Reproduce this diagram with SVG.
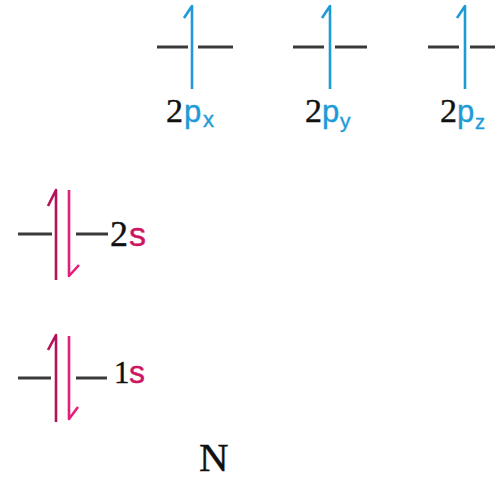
<svg xmlns="http://www.w3.org/2000/svg" width="495" height="479" viewBox="0 0 495 479">
<style>
.lvl{stroke:#3a3a3a;stroke-width:3;fill:none}
.pb{stroke:#1e9bd7;stroke-width:2.6;fill:none;stroke-linejoin:round}
.up{stroke:#b3115a;stroke-width:2.6;fill:none;stroke-linejoin:round}
.dn{stroke:#e51e7b;stroke-width:2.6;fill:none;stroke-linejoin:round}
.dig{font-family:"Liberation Serif",serif;fill:#111;stroke:#111;stroke-width:0.4}
.pl{font-family:"Liberation Sans",sans-serif;fill:#1e9bd7;stroke:#1e9bd7;stroke-width:0.4}
.sl{font-family:"Liberation Sans",sans-serif;fill:#cc1560;stroke:#cc1560;stroke-width:0.4}
</style>
<rect width="495" height="479" fill="#fff"/>
<g id="orbital-2px">
<path class="lvl" d="M157 47H188M198 47H233"/>
<path class="pb" d="M192 89V6L184 18"/>
<text class="dig" x="166" y="122" font-size="34">2</text>
<text class="pl" x="184" y="122" font-size="31">p</text>
<text class="pl" x="203" y="127" font-size="22">x</text>
</g>
<g id="orbital-2py">
<path class="lvl" d="M293 47H324M335 47H367"/>
<path class="pb" d="M330 89V6L322 18"/>
<text class="dig" x="305" y="122" font-size="34">2</text>
<text class="pl" x="322" y="122" font-size="31">p</text>
<text class="pl" x="340" y="128" font-size="21">y</text>
</g>
<g id="orbital-2pz">
<path class="lvl" d="M428 47H459M470 47H495"/>
<path class="pb" d="M465 89V6L457 18"/>
<text class="dig" x="440" y="122" font-size="34">2</text>
<text class="pl" x="457" y="122" font-size="31">p</text>
<text class="pl" x="475" y="129" font-size="20">z</text>
</g>
<g id="orbital-2s">
<path class="lvl" d="M18 234H52M76 234H108"/>
<path class="up" d="M56 280V190L48 206"/>
<path class="dn" d="M69 190V276L79 265"/>
<text class="dig" x="110" y="246" font-size="36">2</text>
<text class="sl" x="129" y="246" font-size="34">s</text>
</g>
<g id="orbital-1s">
<path class="lvl" d="M18 378H51M76 378H107"/>
<path class="up" d="M56 422V335L48 350"/>
<path class="dn" d="M69 336V419L78 407"/>
<text class="dig" x="114" y="383" font-size="31">1</text>
<text class="sl" x="129" y="383" font-size="32">s</text>
</g>
<g id="element">
<text class="dig" x="199" y="471" font-size="41">N</text>
</g>
<g id="connectors"></g>
</svg>
